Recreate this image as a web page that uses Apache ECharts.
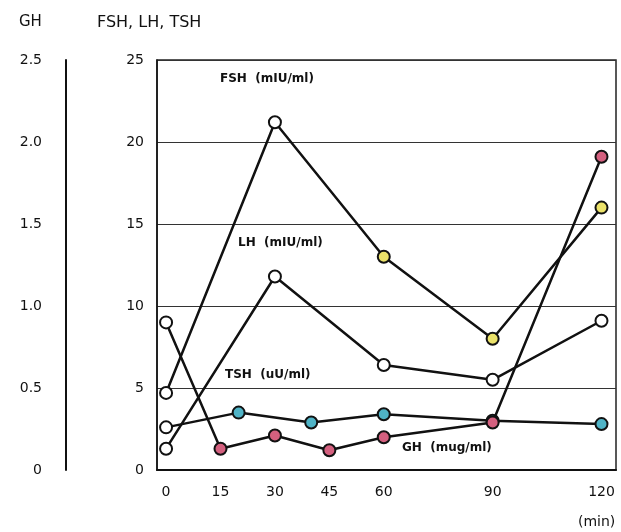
<!DOCTYPE html>
<html>
<head>
<meta charset="utf-8">
<script src="https://cdn.jsdelivr.net/npm/echarts@6/dist/echarts.min.js"></script>
<style>
html,body{margin:0;padding:0;background:#fff;}
#c{width:621px;height:532px;}
</style>
</head>
<body>
<div id="c"></div>
<script>
// ---- data ----
const timeTicks = [0, 15, 30, 45, 60, 90, 120];
const fshTimes = [0, 30, 60, 90, 120];
const fshValues = [4.7, 21.2, 13, 8, 16];
const lhTimes = [0, 30, 60, 90, 120];
const lhValues = [1.3, 11.8, 6.4, 5.5, 9.1];
const tshTimes = [0, 20, 40, 60, 90, 120];
const tshValues = [2.6, 3.5, 2.9, 3.4, 3.0, 2.8];
const ghTimes = [0, 15, 30, 45, 60, 90, 120];
const ghValues = [0.9, 0.13, 0.21, 0.12, 0.2, 0.29, 1.91];

// ---- styles ----
const WHITE = '#ffffff', YELLOW = '#ebe26a', BLUE = '#4fb3c6', PINK = '#d4607f';
const FONT = '"DejaVu Sans", "Liberation Sans", Arial, sans-serif';

function pts(times, vals, fillFn) {
  return times.map((t, i) => ({
    value: [t, vals[i]],
    itemStyle: { color: fillFn(i) }
  }));
}

function lineSeries(name, data, yIdx, z) {
  return {
    name, type: 'line', data, yAxisIndex: yIdx, z,
    symbol: 'circle', symbolSize: 12,
    lineStyle: { color: '#111', width: 2.5 },
    itemStyle: { borderColor: '#111', borderWidth: 2 },
    emphasis: { disabled: true },
    animation: false
  };
}

const chart = echarts.init(document.getElementById('c'), null, { renderer: 'canvas' });
chart.setOption({
  animation: false,
  backgroundColor: '#fff',
  textStyle: { fontFamily: FONT },
  grid: { left: 157, right: 5, top: 60, bottom: 62, show: true, borderColor: '#222', borderWidth: 1.5, backgroundColor: 'transparent' },
  xAxis: {
    type: 'value', min: -2.5, max: 124,
    axisLine: { show: true, onZero: false, lineStyle: { color: '#111', width: 2 } },
    axisTick: { show: false },
    splitLine: { show: false },
    axisLabel: { customValues: timeTicks, color: '#111', fontSize: 14, margin: 15, fontFamily: FONT }
  },
  yAxis: [
    {
      type: 'value', min: 0, max: 25, interval: 5, position: 'left',
      axisLine: { show: true, onZero: false, lineStyle: { color: '#111', width: 1.5 } },
      axisTick: { show: false },
      splitLine: { show: true, lineStyle: { color: '#333', width: 1.2 } },
      axisLabel: { color: '#111', fontSize: 14, margin: 13, fontFamily: FONT }
    },
    {
      type: 'value', min: 0, max: 2.5, interval: 0.5, position: 'left', offset: 91,
      axisLine: { show: true, onZero: false, lineStyle: { color: '#111', width: 2 } },
      axisTick: { show: false },
      splitLine: { show: false },
      axisLabel: { color: '#111', fontSize: 14, margin: 24, fontFamily: FONT,
        formatter: v => v === 0 ? '0' : v.toFixed(1) }
    }
  ],
  series: [
    lineSeries('FSH', pts(fshTimes, fshValues, i => i >= 2 ? YELLOW : WHITE), 0, 3),
    lineSeries('LH', pts(lhTimes, lhValues, () => WHITE), 0, 3),
    lineSeries('TSH', pts(tshTimes, tshValues, i => i === 0 ? WHITE : BLUE), 0, 3),
    lineSeries('GH', pts(ghTimes, ghValues, i => i === 0 ? WHITE : PINK), 1, 4)
  ],
  graphic: [
    { type: 'text', left: 19, top: 15, style: { text: 'GH', font: '15px ' + FONT, fill: '#111' } },
    { type: 'text', left: 97, top: 15, style: { text: 'FSH, LH, TSH', font: '16px ' + FONT, fill: '#111' } },
    { type: 'text', left: 220, top: 73, style: { text: 'FSH  (mIU/ml)', font: 'bold 12px ' + FONT, fill: '#111' } },
    { type: 'text', left: 238, top: 237, style: { text: 'LH  (mIU/ml)', font: 'bold 12px ' + FONT, fill: '#111' } },
    { type: 'text', left: 225, top: 369, style: { text: 'TSH  (uU/ml)', font: 'bold 12px ' + FONT, fill: '#111' } },
    { type: 'text', left: 402, top: 442, style: { text: 'GH  (mug/ml)', font: 'bold 12px ' + FONT, fill: '#111' } },
    { type: 'text', left: 578, top: 515, style: { text: '(min)', font: '14px ' + FONT, fill: '#111' } }
  ]
});
</script>
</body>
</html>
